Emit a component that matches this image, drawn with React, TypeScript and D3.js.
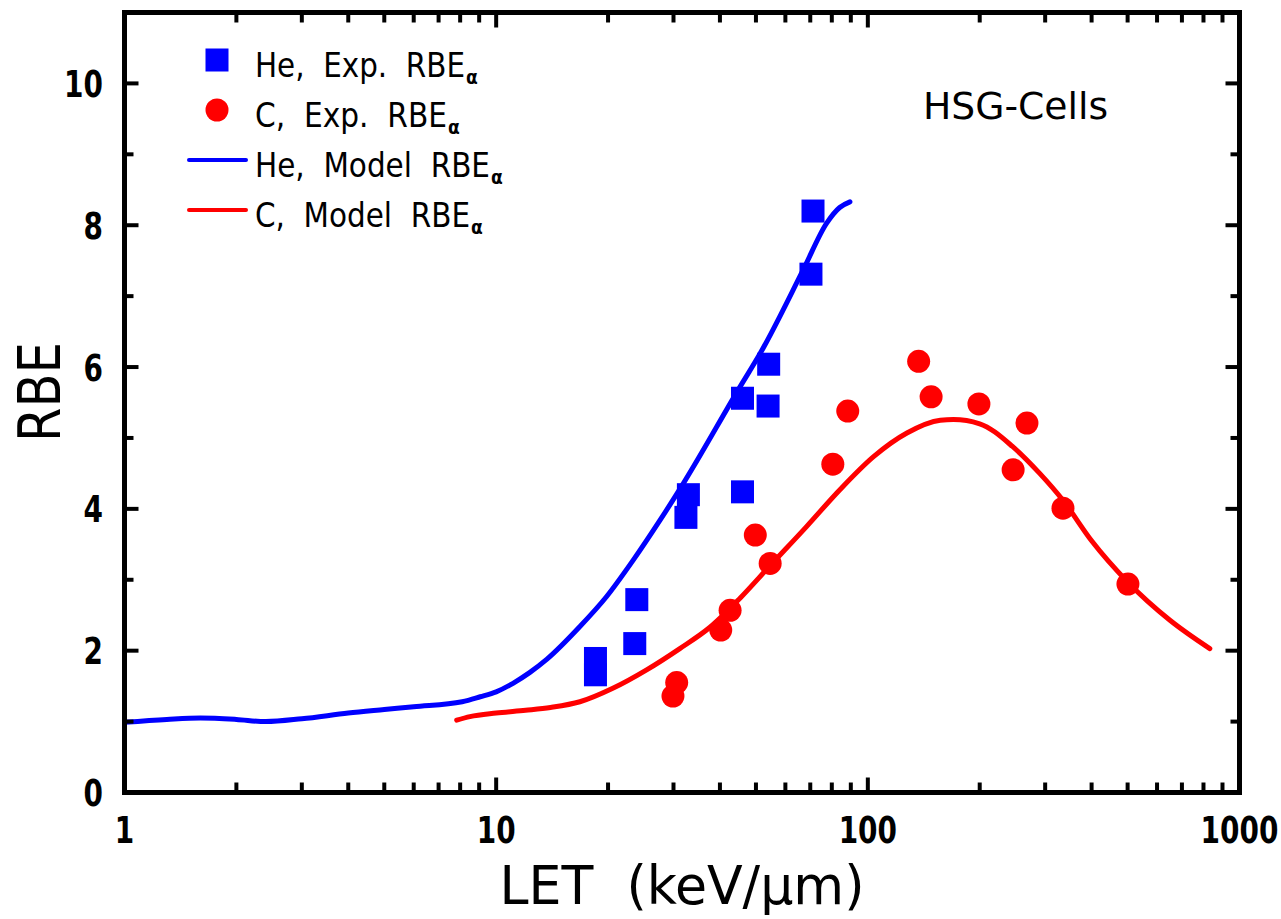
import React from "react";
import * as d3 from "d3";

const W = 1281;
const H = 919;

// He experimental RBE_alpha: [LET, RBE]
const heExp: [number, number][] = [
  [18.5, 1.89], [18.5, 1.66], [23.6, 2.1], [23.9, 2.72], [32.4, 3.88], [32.9, 4.2],
  [46.0, 4.24], [46.0, 5.56], [53.9, 5.45], [54.1, 6.04], [70.3, 7.31], [71.2, 8.2],
];

// C experimental RBE_alpha
const cExp: [number, number][] = [
  [29.9, 1.36], [30.6, 1.55], [40.2, 2.29], [42.6, 2.57], [49.8, 3.63], [54.6, 3.23],
  [80.5, 4.63], [88.3, 5.38], [137, 6.08], [148, 5.58], [199, 5.48], [246, 4.55],
  [268, 5.21], [335, 4.01], [501, 2.94],
];

// He model curve
const heModel: [number, number][] = [
  [1, 0.99], [1.3, 1.03], [1.6, 1.05], [2.0, 1.03], [2.4, 1.0], [3.0, 1.04], [4.0, 1.12],
  [5.0, 1.17], [6.0, 1.21], [8.1, 1.28], [9.06, 1.35], [10, 1.42], [11.1, 1.54], [12.3, 1.69],
  [13.7, 1.88], [16.8, 2.34], [19.8, 2.76], [23.4, 3.28], [27.6, 3.84], [31.9, 4.36],
  [45.3, 5.72], [51.3, 6.19], [67, 7.37], [77.5, 8.03], [84, 8.25], [89.5, 8.33],
];

// C model curve
const cModel: [number, number][] = [
  [7.83, 1.02], [8.5, 1.07], [10, 1.12], [12, 1.16], [14, 1.2], [16.8, 1.28],
  [20.6, 1.47], [25.4, 1.73], [31.2, 2.03], [37.6, 2.33], [45.3, 2.74], [54.6, 3.2],
  [68.4, 3.75], [84.1, 4.27], [103.8, 4.74], [127.4, 5.07], [156.7, 5.25], [170, 5.26],
  [200, 5.2], [245, 4.88], [290, 4.5], [335, 4.12], [400, 3.55], [500, 2.97], [650, 2.43],
  [832, 2.03],
];

const xMajor = [1, 10, 100, 1000];
const xMajorLabels = ["1", "10", "100", "1000"];
const yMajor = [0, 2, 4, 6, 8, 10];
const yMinor = [1, 3, 5, 7, 9];

const legendLabels = ["He,  Exp.  RBE", "C,  Exp.  RBE", "He,  Model  RBE", "C,  Model  RBE"];
const legendKinds = ["square", "circle", "line", "line"];
const legendColors = ["#0000ff", "#ff0000", "#0000ff", "#ff0000"];
const legendLens = [210, 192, 235, 215];

const BLUE = "#0000ff";
const RED = "#ff0000";

export default function App() {
  const left = 124.5, right = 1239.5, top = 12.5, bottom = 792.5;
  const x = d3.scaleLog().domain([1, 1000]).range([left, right]);
  const y = d3.scaleLinear().domain([0, 11]).range([bottom, top]);

  const line = d3
    .line<[number, number]>()
    .x((d) => x(d[0]))
    .y((d) => y(d[1]))
    .curve(d3.curveMonotoneX);

  const minorX: number[] = [];
  for (let dec = 1; dec < 1000; dec *= 10) {
    for (let k = 2; k <= 9; k++) minorX.push(dec * k);
  }

  const font = "'DejaVu Sans Condensed', 'DejaVu Sans', sans-serif";
  const tickStroke = 4;
  const sx = 0.84;

  return (
    <svg
      width={W}
      height={H}
      style={{ position: "absolute", left: 0, top: 0, background: "#fff" }}
      xmlns="http://www.w3.org/2000/svg"
    >
      <rect x={0} y={0} width={W} height={H} fill="#fff" />

      {/* curves */}
      <path d={line(heModel) || ""} fill="none" stroke={BLUE} strokeWidth={5} strokeLinecap="round" />
      <path d={line(cModel) || ""} fill="none" stroke={RED} strokeWidth={5} strokeLinecap="round" />

      {/* markers */}
      {heExp.map((d, i) => (
        <rect key={"s" + i} x={x(d[0]) - 11.5} y={y(d[1]) - 11.5} width={23} height={23} fill={BLUE} />
      ))}
      {cExp.map((d, i) => (
        <circle key={"c" + i} cx={x(d[0])} cy={y(d[1])} r={11.5} fill={RED} />
      ))}

      {/* ticks: bottom & top */}
      {minorX.map((v, i) => (
        <g key={"mx" + i}>
          <line x1={x(v)} x2={x(v)} y1={bottom} y2={bottom - 10} stroke="#000" strokeWidth={tickStroke} />
          <line x1={x(v)} x2={x(v)} y1={top} y2={top + 10} stroke="#000" strokeWidth={tickStroke} />
        </g>
      ))}
      {xMajor.map((v, i) => (
        <g key={"Mx" + i}>
          <line x1={x(v)} x2={x(v)} y1={bottom} y2={bottom - 15} stroke="#000" strokeWidth={tickStroke} />
          <line x1={x(v)} x2={x(v)} y1={top} y2={top + 15} stroke="#000" strokeWidth={tickStroke} />
          <text
            transform={`translate(${x(v)},843) scale(${sx},1)`}
            textAnchor="middle"
            fontFamily={font}
            fontWeight="bold"
            fontSize={37}
            fill="#000"
          >
            {xMajorLabels[i]}
          </text>
        </g>
      ))}

      {/* ticks: left & right */}
      {yMinor.map((v, i) => (
        <g key={"my" + i}>
          <line x1={left} x2={left + 9} y1={y(v)} y2={y(v)} stroke="#000" strokeWidth={tickStroke} />
          <line x1={right} x2={right - 9} y1={y(v)} y2={y(v)} stroke="#000" strokeWidth={tickStroke} />
        </g>
      ))}
      {yMajor.map((v, i) => (
        <g key={"My" + i}>
          <line x1={left} x2={left + 14} y1={y(v)} y2={y(v)} stroke="#000" strokeWidth={tickStroke} />
          <line x1={right} x2={right - 14} y1={y(v)} y2={y(v)} stroke="#000" strokeWidth={tickStroke} />
          <text
            transform={`translate(103,${y(v) + 13.5}) scale(${sx},1)`}
            textAnchor="end"
            fontFamily={font}
            fontWeight="bold"
            fontSize={37}
            fill="#000"
          >
            {String(v)}
          </text>
        </g>
      ))}

      {/* frame */}
      <rect x={left} y={top} width={right - left} height={bottom - top} fill="none" stroke="#000" strokeWidth={5} />

      {/* axis titles */}
      <text
        x={682}
        y={904}
        textAnchor="middle"
        fontFamily={font}
        fontSize={54}
        fill="#000"
        textLength={365}
        lengthAdjust="spacingAndGlyphs"
        style={{ whiteSpace: "pre" }}
      >
        {"LET  (keV/μm)"}
      </text>
      <text
        transform="translate(60,392) rotate(-90)"
        textAnchor="middle"
        fontFamily={font}
        fontSize={58}
        fill="#000"
        textLength={100}
        lengthAdjust="spacingAndGlyphs"
      >
        RBE
      </text>

      {/* annotation */}
      <text x={923} y={119} fontFamily={font} fontSize={38} fill="#000" textLength={185} lengthAdjust="spacingAndGlyphs">
        HSG-Cells
      </text>

      {/* legend */}
      {legendLabels.map((label, i) => {
        const cy = 60 + i * 50;
        const base = 77 + i * 50;
        const color = legendColors[i];
        const kind = legendKinds[i];
        const len = legendLens[i];
        return (
          <g key={"lg" + i}>
            {kind === "square" && <rect x={205.5} y={cy - 11.5} width={23} height={23} fill={color} />}
            {kind === "circle" && <circle cx={217} cy={cy} r={11.5} fill={color} />}
            {kind === "line" && (
              <line x1={189} x2={246} y1={cy} y2={cy} stroke={color} strokeWidth={4} strokeLinecap="round" />
            )}
            <text
              x={255}
              y={base}
              fontFamily={font}
              fontSize={33}
              fill="#000"
              textLength={len}
              lengthAdjust="spacingAndGlyphs"
              style={{ whiteSpace: "pre" }}
            >
              {label}
            </text>
            <text x={255 + len + 1} y={base + 7} fontFamily={font} fontWeight="bold" fontSize={19} fill="#000">
              α
            </text>
          </g>
        );
      })}
    </svg>
  );
}
